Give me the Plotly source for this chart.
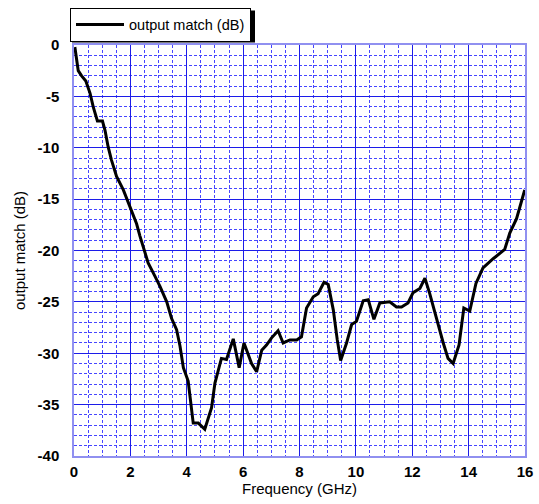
import plotly.graph_objects as go

freq_ghz = [0.03, 0.1, 0.15, 0.27, 0.42, 0.57, 0.68, 0.83, 1.01, 1.1, 1.21, 1.33, 1.51, 1.75,
            1.99, 2.22, 2.34, 2.63, 2.87, 3.05, 3.29, 3.46, 3.64, 3.76, 3.88, 4.05, 4.23, 4.41,
            4.64, 4.88, 5.0, 5.23, 5.41, 5.65, 5.86, 6.03, 6.30, 6.48, 6.66, 6.83, 7.01, 7.24,
            7.42, 7.66, 7.90, 8.07, 8.25, 8.49, 8.66, 8.87, 9.02, 9.2, 9.34, 9.46, 9.67, 9.85,
            10.02, 10.26, 10.44, 10.64, 10.85, 11.2, 11.44, 11.62, 11.85, 12.03, 12.27, 12.45,
            12.62, 12.86, 13.1, 13.27, 13.45, 13.66, 13.83, 14.04, 14.26, 14.51, 14.87, 15.28,
            15.46, 15.7, 15.99]
output_match_db = [-0.2, -1.5, -2.5, -3.0, -3.5, -4.7, -6.0, -7.4, -7.4, -8.3, -9.9, -11.2, -12.8,
                   -14.1, -15.7, -17.4, -18.6, -21.2, -22.5, -23.5, -25.0, -26.6, -27.7, -29.3,
                   -31.4, -32.7, -36.8, -36.8, -37.4, -35.3, -32.9, -30.5, -30.6, -28.6, -31.4,
                   -29.0, -31.0, -31.8, -29.7, -29.2, -28.5, -27.8, -29.0, -28.7, -28.7, -28.4,
                   -25.6, -24.5, -24.2, -23.1, -23.3, -25.8, -28.7, -30.7, -29.0, -27.2, -26.9,
                   -24.9, -24.8, -26.7, -25.1, -25.0, -25.5, -25.5, -25.1, -24.1, -23.7, -22.7,
                   -24.2, -26.7, -29.0, -30.5, -31.0, -29.2, -25.6, -25.9, -23.2, -21.7, -20.8,
                   -19.9, -18.3, -16.9, -14.1]
x_ticks = [0, 2, 4, 6, 8, 10, 12, 14, 16]
y_ticks = [0, -5, -10, -15, -20, -25, -30, -35, -40]
x_minor = [v / 2 for v in range(1, 32) if v % 4 != 0]
y_minor = [-v for v in range(1, 40) if v % 5 != 0]

FONT = "Liberation Sans, Arial, sans-serif"
MAJOR = "#1c1ce8"
MINOR = "#4646ff"
BORDER = "#9090f0"

L, R, T, B = 74, 14, 44.5, 47.5
PW, PH = 539 - L - R, 504 - T - B


def px_x(p):
    return (p - L) / PW


def px_y(p):
    return (504 - B - p) / PH


fig = go.Figure()
fig.add_trace(go.Scatter(x=freq_ghz, y=output_match_db, mode="lines",
                         name="output match (dB)",
                         line=dict(color="black", width=3)))

fig.update_layout(
    width=539, height=504,
    margin=dict(l=L, r=R, t=T, b=B, autoexpand=False),
    paper_bgcolor="white", plot_bgcolor="white",
    font=dict(family=FONT, size=15, color="black"),
    showlegend=True,
    legend=dict(x=px_x(70), y=px_y(7), xanchor="left", yanchor="top",
                bgcolor="white", bordercolor="black", borderwidth=1,
                font=dict(family=FONT, size=14.5, color="black"),
                itemwidth=48),
    shapes=[dict(type="rect", xref="paper", yref="paper",
                 x0=px_x(72), x1=px_x(255), y0=px_y(42), y1=px_y(10),
                 fillcolor="black", line=dict(width=0), layer="below")],
)

fig.update_xaxes(range=[0, 16], tickvals=x_ticks, ticktext=[str(v) for v in x_ticks],
                 showgrid=True, gridcolor=MAJOR, gridwidth=1,
                 minor=dict(tickvals=x_minor, showgrid=True, gridcolor=MINOR,
                            griddash="3px,2px", gridwidth=1),
                 showline=True, linecolor=BORDER, linewidth=1.5, mirror=True,
                 zeroline=False, ticks="", ticklabelstandoff=1, automargin=False,
                 tickfont=dict(family=FONT, size=15, weight="bold"),
                 title=dict(text="Frequency (GHz)", font=dict(family=FONT, size=15), standoff=5))
fig.update_yaxes(range=[-40, 0], tickvals=y_ticks, ticktext=[str(v) for v in y_ticks],
                 showgrid=True, gridcolor=MAJOR, gridwidth=1,
                 minor=dict(tickvals=y_minor, showgrid=True, gridcolor=MINOR,
                            griddash="3px,2px", gridwidth=1),
                 showline=True, linecolor=BORDER, linewidth=1.5, mirror=True,
                 zeroline=False, ticks="", ticklabelstandoff=10, automargin=False,
                 tickfont=dict(family=FONT, size=15, weight="bold"),
                 title=dict(text="output match (dB)", font=dict(family=FONT, size=15), standoff=8))

fig.write_html("out.html", config={"displayModeBar": False},
               post_script="document.body.style.margin='0';document.body.style.padding='0';")
